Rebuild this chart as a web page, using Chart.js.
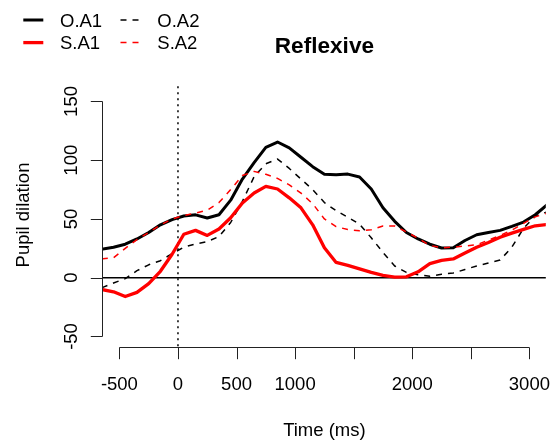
<!DOCTYPE html>
<html>
<head>
<meta charset="utf-8">
<script src="https://cdn.jsdelivr.net/npm/chart.js@4"></script>
<style>
  html, body { margin: 0; padding: 0; background: #fff; }
</style>
</head>
<body>
<canvas id="myChart" width="556" height="441"></canvas>
<script>
// time bins (ms)
const times = [-650, -550, -450, -350, -250, -150, -50, 50, 150, 250, 350, 450, 550, 650, 750, 850, 950, 1050, 1150, 1250,
    1350, 1450, 1550, 1650, 1750, 1850, 1950, 2050, 2150, 2250, 2350, 2450, 2550, 2650, 2750, 2850, 2950, 3050, 3150];

const oA1 = [24.2, 26, 28.5, 33, 38.5, 45, 49.5, 52.5, 53.5, 50.8, 53.6, 66, 84, 98, 111, 115.5, 110.5, 102.5, 94.5, 88,
    87.7, 88.2, 85.7, 75.5, 59.5, 48, 38.5, 33, 28.5, 25.3, 25.5, 31.7, 36.6, 38.5, 40.3, 43.7, 47.4, 53.6, 62];
const oA2 = [-8.5, -4.5, -0.8, 6, 11, 14.5, 20.5, 26, 28.7, 30.8, 35, 47, 65, 86, 97, 101, 93, 84, 75, 64,
    57, 51.5, 45.5, 34, 21.5, 10, 4.5, 2.5, 1.2, 3, 4, 7, 10, 12.5, 15, 26, 42, 52.5, 56];
const sA1 = [-10, -12, -16, -12.5, -5, 5.5, 20, 37, 40.3, 36, 41.5, 51, 63.6, 72.1, 77.7, 75.5, 68, 59.5, 45, 25.5,
    13, 10.5, 7.5, 4.5, 2, 0.5, 0.8, 5, 12, 14.8, 16, 21, 26, 30, 34.5, 38, 41.2, 44.2, 45.3];
const sA2 = [16, 17, 25, 32.5, 38.5, 45, 50, 53, 55, 57.5, 64, 75, 87, 90.5, 88, 84.5, 79, 72, 63, 50,
    43.5, 41, 40, 40.8, 44, 44, 39, 33.5, 27.5, 25.5, 26, 27, 28, 32, 36, 40.5, 46.3, 51.8, 55];

const xTicks = [-500, 0, 500, 1000, 1500, 2000, 2500, 3000];
const xTickLabels = ['-500', '0', '500', '1000', '', '2000', '', '3000'];
const yTicks = [-50, 0, 50, 100, 150];

const FONT = '"Liberation Sans", Arial, Helvetica, sans-serif';

const series = [
    { label: 'O.A1', data: oA1, color: '#000000', width: 3, dash: [] },
    { label: 'O.A2', data: oA2, color: '#000000', width: 1.5, dash: [6, 6] },
    { label: 'S.A1', data: sA1, color: '#ff0000', width: 3.3, dash: [] },
    { label: 'S.A2', data: sA2, color: '#ff0000', width: 1.5, dash: [6, 6] },
];

const toPoints = arr => times.map((t, i) => ({ x: t, y: arr[i] }));

// base-R style axes, reference lines, legend and titles
const rStyle = {
    id: 'rStyle',
    beforeDatasetsDraw(chart) {
        const { ctx, chartArea: a, scales: { x, y } } = chart;
        ctx.save();
        ctx.strokeStyle = '#000';
        ctx.lineWidth = 1.5;
        const y0 = y.getPixelForValue(0);
        ctx.beginPath();
        ctx.moveTo(a.left, y0);
        ctx.lineTo(a.right, y0);
        ctx.stroke();

        ctx.setLineDash([2, 4]);
        ctx.lineWidth = 1.5;
        const x0 = x.getPixelForValue(0);
        ctx.beginPath();
        ctx.moveTo(x0, a.top);
        ctx.lineTo(x0, a.bottom);
        ctx.stroke();
        ctx.restore();
    },
    afterDraw(chart) {
        const { ctx, chartArea: a, scales: { x, y } } = chart;
        const tick = 11.7;
        ctx.save();
        ctx.strokeStyle = '#222';
        ctx.lineWidth = 1;
        ctx.fillStyle = '#000';
        ctx.font = '18.5px ' + FONT;

        // x axis
        const xb = Math.round(a.bottom) + 0.5;
        ctx.beginPath();
        ctx.moveTo(x.getPixelForValue(xTicks[0]), xb);
        ctx.lineTo(x.getPixelForValue(xTicks[xTicks.length - 1]), xb);
        xTicks.forEach(v => {
            const px = Math.round(x.getPixelForValue(v)) + 0.5;
            ctx.moveTo(px, xb);
            ctx.lineTo(px, xb + tick);
        });
        ctx.stroke();
        ctx.textAlign = 'center';
        ctx.textBaseline = 'alphabetic';
        xTicks.forEach((v, i) => {
            ctx.fillText(xTickLabels[i], x.getPixelForValue(v), 390);
        });

        // y axis
        const yl = Math.round(a.left) - 0.5;
        ctx.beginPath();
        ctx.moveTo(yl, y.getPixelForValue(yTicks[0]));
        ctx.lineTo(yl, y.getPixelForValue(yTicks[yTicks.length - 1]));
        yTicks.forEach(v => {
            const py = Math.round(y.getPixelForValue(v)) + 0.5;
            ctx.moveTo(yl, py);
            ctx.lineTo(yl - tick, py);
        });
        ctx.stroke();
        yTicks.forEach(v => {
            ctx.save();
            ctx.translate(76.6, y.getPixelForValue(v));
            ctx.rotate(-Math.PI / 2);
            ctx.fillText(String(v), 0, 0);
            ctx.restore();
        });

        // axis titles
        const cx = (a.left + a.right) / 2;
        ctx.fillText('Time (ms)', cx, 435.5);
        ctx.save();
        ctx.translate(29.3, 215);
        ctx.rotate(-Math.PI / 2);
        ctx.fillText('Pupil dilation', 0, 0);
        ctx.restore();

        // main title
        ctx.font = 'bold 22.6px ' + FONT;
        ctx.fillText('Reflexive', cx, 52.5);

        // legend, two columns
        ctx.font = '18.5px ' + FONT;
        ctx.textAlign = 'left';
        const cols = [[23.3, 60], [120.5, 157.3]];
        const rows = [20, 42.6];
        const rowBase = [26.7, 49.2];
        series.forEach((s, i) => {
            const c = cols[i % 2], r = i < 2 ? 0 : 1;
            ctx.strokeStyle = s.color;
            ctx.lineWidth = s.width;
            ctx.setLineDash(s.dash);
            ctx.beginPath();
            ctx.moveTo(c[0], rows[r]);
            ctx.lineTo(c[0] + 20, rows[r]);
            ctx.stroke();
            ctx.setLineDash([]);
            ctx.fillText(s.label, c[1], rowBase[r]);
        });
        ctx.restore();
    }
};

const ctx = document.getElementById('myChart').getContext('2d');
new Chart(ctx, {
    type: 'line',
    data: {
        datasets: series.map((s, i) => ({
            label: s.label,
            data: toPoints(s.data),
            borderColor: s.color,
            borderWidth: s.width,
            borderDash: s.dash,
            borderJoinStyle: 'round',
            borderCapStyle: s.dash.length ? 'butt' : 'round',
            pointRadius: 0,
            tension: 0,
            fill: false,
            clip: 0,
            order: series.length - i,
        }))
    },
    options: {
        responsive: false,
        animation: false,
        devicePixelRatio: 1,
        layout: {
            padding: { left: 103, right: 10.2, top: 86.2, bottom: 94.3 }
        },
        scales: {
            x: { type: 'linear', min: -640, max: 3140, display: false },
            y: { type: 'linear', min: -58.7, max: 163, display: false }
        },
        plugins: {
            legend: { display: false },
            tooltip: { enabled: false }
        }
    },
    plugins: [rStyle]
});
</script>
</body>
</html>
